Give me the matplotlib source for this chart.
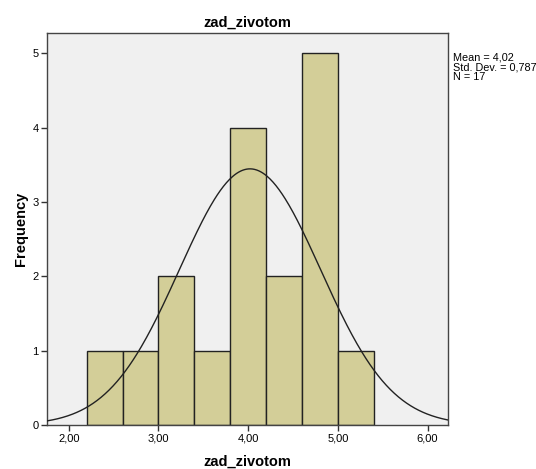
import numpy as np
import matplotlib
matplotlib.use("Agg")
import matplotlib.pyplot as plt

# histogram data
bin_edges = [2.2, 2.6, 3.0, 3.4, 3.8, 4.2, 4.6, 5.0, 5.4]
counts = [1, 1, 2, 1, 4, 2, 5, 1]
mean = 4.02
std_dev = 0.787
n = 17
x_ticks = [2.0, 3.0, 4.0, 5.0, 6.0]
x_tick_labels = ["2,00", "3,00", "4,00", "5,00", "6,00"]
y_ticks = [0, 1, 2, 3, 4, 5]
stats_text = "Mean = 4,02\nStd. Dev. = 0,787\nN = 17"

plt.rcParams['font.family'] = ['Liberation Sans', 'DejaVu Sans']

fig = plt.figure(figsize=(5.36, 4.69), dpi=100)
ax = fig.add_axes([0.0873, 0.0938, 0.749, 0.835])
ax.set_facecolor('#F0F0F0')

widths = np.diff(bin_edges)
ax.bar(bin_edges[:-1], counts, width=widths, align='edge',
       color='#D3CE98', edgecolor='#222222', linewidth=1.0, zorder=2)

# normal curve scaled to counts
x = np.linspace(1.75, 6.25, 400)
bw = widths[0]
y = n * bw / (std_dev * np.sqrt(2 * np.pi)) * np.exp(-0.5 * ((x - mean) / std_dev) ** 2)
ax.plot(x, y, color='#222222', linewidth=1.0, zorder=3)

ax.set_xlim(1.755, 6.23)
ax.set_ylim(0, 5.27)
ax.set_xticks(x_ticks)
ax.set_xticklabels(x_tick_labels, fontsize=8)
ax.set_yticks(y_ticks)
ax.set_yticklabels([str(v) for v in y_ticks], fontsize=8)
ax.tick_params(length=4, width=1, color='#333333', pad=2)

for s in ax.spines.values():
    s.set_color('#444444')
    s.set_linewidth(1.0)

ax.set_title('zad_zivotom', fontsize=10.5, fontweight='bold', pad=5)
ax.set_xlabel('zad_zivotom', fontsize=10.5, fontweight='bold', labelpad=8)
ax.set_ylabel('Frequency', fontsize=10.5, fontweight='bold', labelpad=3)

fig.text(453 / 536, 1 - 52 / 469, stats_text,
         fontsize=7.8, va='top', ha='left', linespacing=1.0)

plt.savefig('out.png', dpi=100)
